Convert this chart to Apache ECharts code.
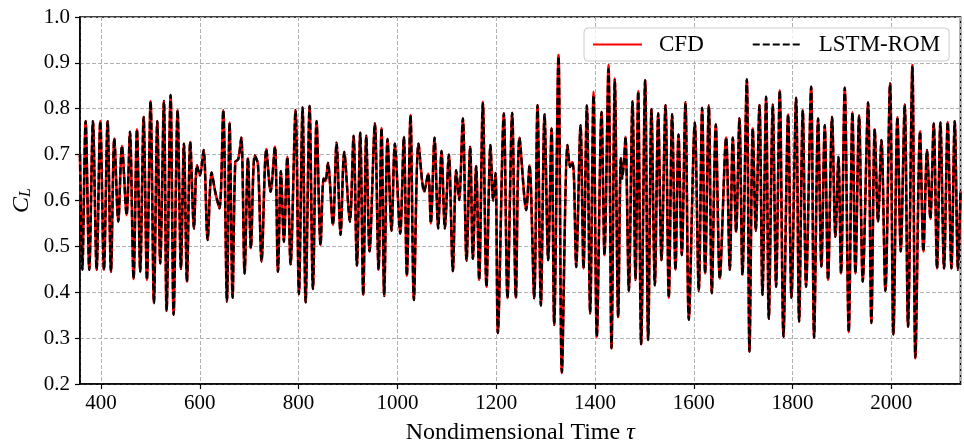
<!DOCTYPE html>
<html><head><meta charset="utf-8">
<script src="https://cdn.jsdelivr.net/npm/echarts@6/dist/echarts.min.js"></script>
<style>html,body{margin:0;padding:0;background:#fff}#c{width:964px;height:446px}</style>
</head><body><div id="c"></div>
<script>
// Nondimensional time (x values)
const tau = [
 357.5, 362.2, 368.9, 376.3, 383.7, 391.2, 398.6, 406.0, 413.4, 420.2,
 427.0, 435.0, 442.4, 451.9, 458.6, 466.0, 472.8, 479.5, 486.3, 493.0,
 500.4, 507.2, 514.0, 520.0, 527.4, 532.8, 540.9, 547.0, 555.1, 561.8,
 567.9, 574.0, 580.7, 588.2, 594.2, 600.3, 607.7, 615.8, 623.9, 632.0,
 640.1, 647.5, 655.0, 660.3, 666.4, 671.8, 677.9, 684.0, 690.7, 697.5,
 703.5, 711.0, 717.7, 725.1, 734.6, 743.3, 752.1, 758.2, 764.2, 770.3,
 777.1, 783.8, 793.9, 800.7, 808.1, 814.2, 822.3, 829.0, 836.4, 844.5,
 850.6, 854.6, 859.4, 869.5, 876.9, 885.0, 892.4, 903.9, 911.3, 918.1,
 924.8, 930.9, 937.0, 943.7, 954.5, 961.9, 967.9, 973.3, 980.1, 988.2,
 994.9, 1005.7, 1013.1, 1019.2, 1026.6, 1033.4, 1042.8, 1054.3, 1062.4, 1067.8,
 1075.2, 1082.6, 1089.4, 1096.1, 1104.2, 1112.3, 1119.1, 1125.1, 1132.5, 1140.0,
 1147.4, 1152.8, 1159.5, 1165.6, 1173.0, 1180.4, 1188.5, 1193.9, 1198.7, 1203.4,
 1215.5, 1222.9, 1232.4, 1239.8, 1247.2, 1260.8, 1267.5, 1277.0, 1283.7, 1290.5,
 1297.9, 1305.3, 1312.1, 1317.5, 1326.2, 1333.0, 1344.4, 1349.8, 1353.9, 1357.3,
 1362.0, 1370.8, 1376.8, 1383.6, 1390.3, 1397.1, 1403.8, 1413.3, 1419.3, 1427.4,
 1433.5, 1440.2, 1447.0, 1452.4, 1455.1, 1459.1, 1461.8, 1468.6, 1476.0, 1482.1,
 1487.5, 1493.5, 1501.6, 1507.7, 1514.4, 1521.2, 1528.0, 1534.7, 1542.8, 1549.5,
 1556.2, 1563.0, 1569.1, 1575.8, 1583.2, 1590.0, 1602.1, 1610.2, 1617.0, 1623.0,
 1630.5, 1636.5, 1644.6, 1652.7, 1665.5, 1673.0, 1679.0, 1685.8, 1692.5, 1698.6,
 1707.4, 1712.8, 1719.5, 1725.6, 1733.0, 1739.1, 1746.5, 1751.9, 1760.0, 1766.7,
 1774.1, 1781.6, 1791.0, 1797.8, 1807.2, 1813.3, 1820.7, 1827.4, 1837.6, 1843.6,
 1851.7, 1858.4, 1865.2, 1871.9, 1880.0, 1886.8, 1892.9, 1898.2, 1905.7, 1913.8,
 1921.2, 1927.3, 1934.7, 1942.1, 1952.9, 1959.6, 1966.4, 1973.1, 1979.9, 1988.0,
 1997.4, 2004.2, 2012.3, 2019.0, 2027.1, 2033.8, 2042.6, 2048.7, 2058.1, 2064.9,
 2072.3, 2079.0, 2085.8, 2092.5, 2099.3, 2106.7, 2114.1, 2121.6, 2128.3, 2135.0,
 2140.0
];

// CFD lift coefficient
const cfd = [
 0.700, 0.449, 0.773, 0.449, 0.773, 0.449, 0.773, 0.449, 0.773, 0.445,
 0.735, 0.554, 0.719, 0.568, 0.750, 0.429, 0.755, 0.445, 0.782, 0.427,
 0.817, 0.376, 0.773, 0.463, 0.817, 0.359, 0.830, 0.351, 0.797, 0.451,
 0.724, 0.423, 0.728, 0.539, 0.677, 0.655, 0.710, 0.514, 0.661, 0.615,
 0.583, 0.797, 0.380, 0.770, 0.388, 0.684, 0.690, 0.737, 0.441, 0.692,
 0.496, 0.698, 0.680, 0.467, 0.712, 0.619, 0.717, 0.445, 0.664, 0.510,
 0.695, 0.461, 0.797, 0.396, 0.803, 0.378, 0.806, 0.407, 0.773, 0.503,
 0.648, 0.642, 0.682, 0.547, 0.726, 0.525, 0.706, 0.554, 0.741, 0.458,
 0.748, 0.394, 0.741, 0.489, 0.768, 0.449, 0.758, 0.392, 0.734, 0.534,
 0.724, 0.528, 0.739, 0.436, 0.786, 0.383, 0.724, 0.619, 0.659, 0.550,
 0.737, 0.539, 0.708, 0.539, 0.700, 0.446, 0.666, 0.601, 0.779, 0.469,
 0.717, 0.473, 0.675, 0.427, 0.815, 0.412, 0.721, 0.600, 0.660, 0.311,
 0.790, 0.387, 0.791, 0.388, 0.737, 0.579, 0.677, 0.387, 0.808, 0.371,
 0.788, 0.470, 0.757, 0.329, 0.917, 0.224, 0.721, 0.673, 0.684, 0.657,
 0.455, 0.764, 0.452, 0.807, 0.354, 0.837, 0.303, 0.793, 0.481, 0.895,
 0.278, 0.866, 0.346, 0.692, 0.648, 0.691, 0.739, 0.403, 0.816, 0.427,
 0.838, 0.287, 0.862, 0.296, 0.799, 0.415, 0.790, 0.470, 0.808, 0.388,
 0.788, 0.449, 0.744, 0.481, 0.814, 0.340, 0.770, 0.403, 0.802, 0.441,
 0.807, 0.398, 0.766, 0.430, 0.737, 0.449, 0.737, 0.532, 0.779, 0.438,
 0.864, 0.271, 0.757, 0.534, 0.808, 0.394, 0.826, 0.342, 0.809, 0.412,
 0.840, 0.303, 0.788, 0.388, 0.824, 0.336, 0.797, 0.412, 0.848, 0.301,
 0.779, 0.456, 0.764, 0.427, 0.782, 0.521, 0.695, 0.441, 0.846, 0.313,
 0.792, 0.441, 0.785, 0.423, 0.814, 0.333, 0.756, 0.554, 0.732, 0.403,
 0.855, 0.308, 0.782, 0.489, 0.809, 0.325, 0.895, 0.256, 0.751, 0.489,
 0.710, 0.560, 0.768, 0.452, 0.770, 0.452, 0.771, 0.452, 0.773, 0.449,
 0.620
];

// LSTM-ROM prediction (visually coincides with CFD almost everywhere)
const lstmRom = [
 0.700, 0.449, 0.773, 0.449, 0.773, 0.449, 0.773, 0.449, 0.773, 0.445,
 0.735, 0.554, 0.719, 0.568, 0.750, 0.429, 0.755, 0.445, 0.782, 0.427,
 0.817, 0.376, 0.773, 0.463, 0.817, 0.359, 0.830, 0.351, 0.797, 0.451,
 0.724, 0.423, 0.728, 0.539, 0.677, 0.655, 0.710, 0.514, 0.661, 0.615,
 0.583, 0.797, 0.380, 0.770, 0.388, 0.684, 0.690, 0.737, 0.441, 0.692,
 0.496, 0.698, 0.680, 0.467, 0.712, 0.619, 0.717, 0.445, 0.664, 0.510,
 0.695, 0.461, 0.797, 0.396, 0.803, 0.378, 0.806, 0.407, 0.773, 0.503,
 0.648, 0.642, 0.682, 0.547, 0.726, 0.525, 0.706, 0.554, 0.741, 0.458,
 0.748, 0.394, 0.741, 0.489, 0.768, 0.449, 0.758, 0.392, 0.734, 0.534,
 0.724, 0.528, 0.739, 0.436, 0.786, 0.383, 0.724, 0.619, 0.659, 0.550,
 0.737, 0.539, 0.708, 0.539, 0.700, 0.446, 0.666, 0.601, 0.779, 0.469,
 0.717, 0.473, 0.675, 0.427, 0.812, 0.412, 0.721, 0.600, 0.660, 0.311,
 0.790, 0.387, 0.791, 0.388, 0.737, 0.579, 0.677, 0.387, 0.808, 0.371,
 0.788, 0.470, 0.757, 0.329, 0.914, 0.226, 0.721, 0.673, 0.684, 0.657,
 0.455, 0.764, 0.452, 0.807, 0.354, 0.829, 0.303, 0.793, 0.481, 0.886,
 0.278, 0.862, 0.346, 0.692, 0.648, 0.691, 0.739, 0.403, 0.816, 0.427,
 0.838, 0.287, 0.862, 0.296, 0.799, 0.415, 0.790, 0.470, 0.808, 0.388,
 0.788, 0.449, 0.744, 0.481, 0.814, 0.340, 0.770, 0.403, 0.802, 0.441,
 0.807, 0.398, 0.766, 0.430, 0.737, 0.449, 0.737, 0.532, 0.779, 0.438,
 0.864, 0.271, 0.757, 0.534, 0.808, 0.394, 0.826, 0.342, 0.809, 0.412,
 0.840, 0.303, 0.788, 0.388, 0.824, 0.336, 0.797, 0.412, 0.848, 0.301,
 0.779, 0.456, 0.764, 0.427, 0.782, 0.521, 0.695, 0.441, 0.846, 0.313,
 0.792, 0.441, 0.785, 0.423, 0.814, 0.333, 0.756, 0.554, 0.732, 0.403,
 0.855, 0.308, 0.782, 0.489, 0.809, 0.325, 0.891, 0.258, 0.751, 0.489,
 0.710, 0.560, 0.768, 0.452, 0.770, 0.452, 0.771, 0.452, 0.773, 0.449,
 0.620
];

const seriesNames = ['CFD', 'LSTM-ROM'];
const xRange = [357.5, 2140];
const yRange = [0.2, 1.0];

const FONT = 'Liberation Serif';
const chart = echarts.init(document.getElementById('c'), null, {renderer: 'canvas'});
const gridLine = {show: true, lineStyle: {color: '#b0b0b0', width: 1, type: [4, 2]}};

chart.setOption({
  animation: false,
  backgroundColor: '#ffffff',
  grid: {left: 80, right: 3.5, top: 17, bottom: 62, show: true, containLabel: false, outerBoundsMode: 'none',
         borderColor: '#000', borderWidth: 1.6, backgroundColor: 'transparent'},
  legend: {
    data: seriesNames, left: 584, top: 28, orient: 'horizontal',
    padding: [5, 9, 5, 8], itemGap: 48, itemWidth: 49, itemHeight: 14,
    backgroundColor: 'rgba(255,255,255,0.8)', borderColor: '#cccccc', borderWidth: 1, borderRadius: 4,
    itemStyle: {opacity: 0, borderWidth: 0},
    textStyle: {fontFamily: FONT, fontSize: 23, color: '#000', padding: [0, 0, 0, 12]}
  },
  xAxis: {
    type: 'value', min: xRange[0], max: xRange[1], splitNumber: 9, minInterval: 200, maxInterval: 200,
    axisLine: {show: true, lineStyle: {color: '#000', width: 1.6}},
    axisTick: {show: true, inside: false, length: 5, lineStyle: {color: '#000', width: 1.2}},
    axisLabel: {showMinLabel: false, showMaxLabel: false, margin: 9, color: '#000', fontFamily: FONT, fontSize: 21,
                formatter: v => String(Math.round(v))},
    splitLine: gridLine,
    name: '{a|Nondimensional Time }{t|τ}', nameLocation: 'middle', nameGap: 37,
    nameTextStyle: {rich: {
      a: {fontFamily: FONT, fontSize: 24, color: '#000'},
      t: {fontFamily: FONT, fontSize: 24, color: '#000', fontStyle: 'italic'}
    }}
  },
  yAxis: {
    type: 'value', min: yRange[0], max: yRange[1], interval: 0.1,
    axisLine: {show: true, lineStyle: {color: '#000', width: 1.6}},
    axisTick: {show: true, inside: false, length: 5, lineStyle: {color: '#000', width: 1.2}},
    axisLabel: {margin: 10, color: '#000', fontFamily: FONT, fontSize: 21, formatter: v => v.toFixed(1)},
    splitLine: gridLine,
    name: '{c|C}{s|L}', nameLocation: 'middle', nameRotate: 90, nameGap: 46, nameMoveOverlap: false,
    nameTextStyle: {rich: {
      c: {fontFamily: FONT, fontSize: 24, color: '#000', fontStyle: 'italic', lineHeight: 24, verticalAlign: 'top', padding: [0, 0, 5, 0]},
      s: {fontFamily: FONT, fontSize: 16, color: '#000', fontStyle: 'italic', lineHeight: 16, verticalAlign: 'bottom'}
    }}
  },
  series: [
    {name: seriesNames[0], type: 'line', data: tau.map((t, i) => [t, cfd[i]]),
     symbol: 'none', smooth: 0.3, z: 2,
     lineStyle: {color: '#ff0000', width: 2.6}, itemStyle: {color: '#ff0000'}},
    {name: seriesNames[1], type: 'line', data: tau.map((t, i) => [t, lstmRom[i]]),
     symbol: 'none', smooth: 0.3, z: 3,
     lineStyle: {color: '#000000', width: 2.4, type: [7, 3]}, itemStyle: {color: '#000000'}}
  ]
});
</script></body></html>
